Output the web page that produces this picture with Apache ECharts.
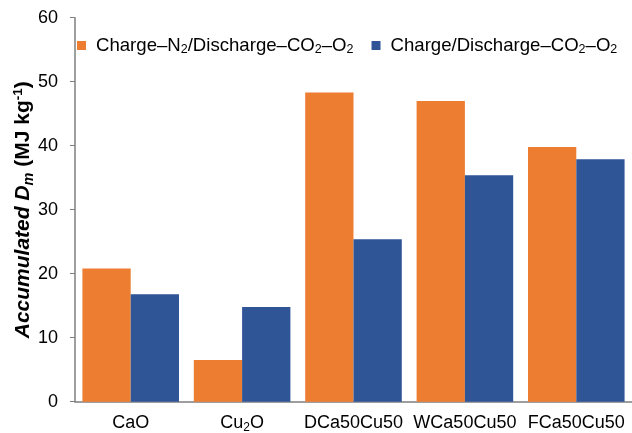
<!DOCTYPE html>
<html>
<head>
<meta charset="utf-8">
<script src="https://cdn.jsdelivr.net/npm/echarts@6/dist/echarts.min.js"></script>
<style>html,body{margin:0;padding:0;background:#fff}#c{width:632px;height:433px}</style>
</head>
<body>
<div id="c"></div>
<script>
var categories = ['CaO', 'Cu2O', 'DCa50Cu50', 'WCa50Cu50', 'FCa50Cu50'];
var seriesNames = ['Charge–N2/Discharge–CO2–O2', 'Charge/Discharge–CO2–O2'];
var chargeN2 = [20.8, 6.5, 48.3, 47.0, 39.8];
var chargeCO2 = [16.8, 14.8, 25.4, 35.4, 37.9];
var yTicks = [0, 10, 20, 30, 40, 50, 60];

var FONT = 'Liberation Sans, Arial, sans-serif';
var chart = echarts.init(document.getElementById('c'));
chart.setOption({
  animation: false,
  backgroundColor: '#ffffff',
  grid: { left: 75, right: 0, top: 17.7, bottom: 31.3, containLabel: false, outerBoundsMode: 'none' },
  legend: {
    left: 72, top: 31,
    itemWidth: 9, itemHeight: 9, itemGap: 18,
    icon: 'rect',
    data: seriesNames,
    formatter: function (n) {
      return '{a|' + n.replace(/([NO])2/g, '$1}{s|2}{a|') + '}';
    },
    textStyle: {
      padding: [0, 0, 0, 5],
      rich: {
        a: { fontFamily: FONT, fontSize: 18.6, color: '#000', lineHeight: 22 },
        s: { fontFamily: FONT, fontSize: 12.5, color: '#000', lineHeight: 12, verticalAlign: 'bottom' }
      }
    }
  },
  xAxis: {
    type: 'category',
    data: categories,
    axisLine: { lineStyle: { color: '#7f7f7f', width: 1.5 } },
    axisTick: { show: false },
    axisLabel: {
      interval: 0,
      margin: 10,
      formatter: function (v) {
        return '{a|' + v.replace(/^Cu2O$/, 'Cu}{s|2}{a|O') + '}';
      },
      rich: {
        a: { fontFamily: FONT, fontSize: 18, color: '#000', lineHeight: 22 },
        s: { fontFamily: FONT, fontSize: 12, color: '#000', lineHeight: 12, verticalAlign: 'bottom' }
      }
    }
  },
  yAxis: {
    type: 'value',
    min: yTicks[0], max: yTicks[yTicks.length - 1], interval: 10,
    splitLine: { show: false },
    axisLine: { show: true, lineStyle: { color: '#7f7f7f', width: 1.5 } },
    axisTick: { show: true, length: 5, lineStyle: { color: '#7f7f7f', width: 1 } },
    axisLabel: { fontFamily: FONT, fontSize: 18, color: '#000', margin: 17 },
    name: '{bi|Accumulated }{bi|D}{im|m}{b| (MJ kg}{sup|-1}{b|)}',
    nameLocation: 'middle',
    nameGap: 39,
    nameMoveOverlap: false,
    nameRotate: 90,
    nameTextStyle: {
      rich: {
        bi: { fontFamily: FONT, fontSize: 21, fontWeight: 'bold', fontStyle: 'italic', color: '#000', lineHeight: 25 },
        im: { fontFamily: FONT, fontSize: 14.5, fontStyle: 'italic', fontWeight: 'bold', color: '#000', lineHeight: 14, verticalAlign: 'bottom' },
        b: { fontFamily: FONT, fontSize: 21, fontWeight: 'bold', color: '#000', lineHeight: 25 },
        sup: { fontFamily: FONT, fontSize: 13.5, fontWeight: 'bold', color: '#000', lineHeight: 13, verticalAlign: 'top' }
      }
    }
  },
  series: [
    { name: seriesNames[0], type: 'bar', data: chargeN2, barGap: '0%', barCategoryGap: '13.3%',
      itemStyle: { color: '#ED7D31' } },
    { name: seriesNames[1], type: 'bar', data: chargeCO2, barGap: '0%', barCategoryGap: '13.3%',
      itemStyle: { color: '#2F5597' } }
  ]
});
</script>
</body>
</html>
